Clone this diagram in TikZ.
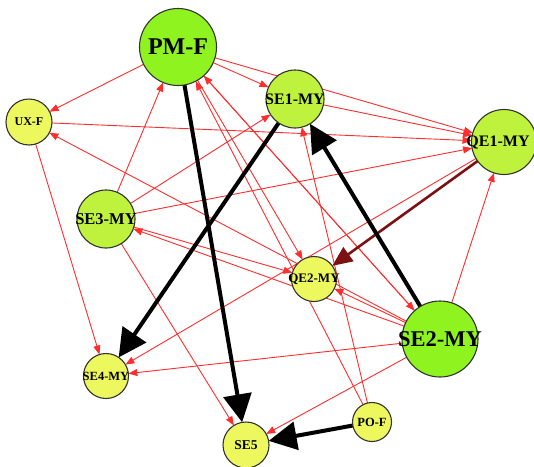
\documentclass[tikz,border=0pt]{standalone}
\usepackage{fontspec}
\setmainfont{Liberation Serif}
\usetikzlibrary{arrows.meta}

\definecolor{bignode}{HTML}{8EF31F}
\definecolor{midnode}{HTML}{BFF23D}
\definecolor{smallnode}{HTML}{EDF75E}
\definecolor{edgered}{HTML}{FF2E2E}
\definecolor{edgemaroon}{HTML}{7B1111}
\definecolor{rim}{HTML}{333333}

\pgfdeclarelayer{paper}
\pgfdeclarelayer{edges}
\pgfsetlayers{paper,edges,main}

\begin{document}
\begin{tikzpicture}[x=1pt,y=-1pt,
  vertex/.style={circle, draw=rim, line width=1.1pt, inner sep=0pt, outer sep=0pt},
  bigv/.style={vertex, fill=bignode},
  midv/.style={vertex, fill=midnode},
  smallv/.style={vertex, fill=smallnode},
  fsz/.style={font=\fontsize{#1}{#1}\selectfont\bfseries},
  weak/.style={draw=edgered, line width=0.9pt, -{Triangle[length=9pt,width=7pt]}},
  mid/.style={draw=edgemaroon, line width=2.6pt, -{Triangle[length=20pt,width=17pt]}},
  strong/.style={draw=black, line width=4pt, -{Triangle[length=28pt,width=28pt]}}
]
\useasboundingbox (0,0) rectangle (534,466);
\clip (0,0) rectangle (534,466);
\begin{pgfonlayer}{paper}
  \fill[white] (0,0) rectangle (534,466);
\end{pgfonlayer}

% vertices
\node[bigv,   minimum size=77pt, fsz=24]   (pmf) at (178,47)  {\makebox[0pt]{PM-F}};
\node[smallv, minimum size=46pt, fsz=12]   (uxf) at (29,122)  {\makebox[0pt]{UX-F}};
\node[midv,   minimum size=58pt, fsz=16]   (se1) at (295,99)  {\makebox[0pt]{SE1-MY}};
\node[midv,   minimum size=65pt, fsz=16]   (qe1) at (504,142) {\makebox[0pt]{QE1-MY\kern12pt}};
\node[midv,   minimum size=58pt, fsz=16.5] (se3) at (106,219) {\makebox[0pt]{SE3-MY}};
\node[smallv, minimum size=45pt, fsz=13]   (qe2) at (314,279) {\makebox[0pt]{QE2-MY}};
\node[bigv,   minimum size=76pt, fsz=22.5] (se2) at (440,339) {\makebox[0pt]{SE2-MY}};
\node[smallv, minimum size=45pt, fsz=12.5] (se4) at (106,376) {\makebox[0pt]{SE4-MY}};
\node[smallv, minimum size=46pt, fsz=13.5] (se5) at (246,445) {\makebox[0pt]{SE5}};
\node[smallv, minimum size=39pt, fsz=12.5] (pof) at (372,422) {\makebox[0pt]{PO-F}};

\begin{pgfonlayer}{edges}
  % thin relations
  \draw[weak] (pmf) -- (uxf);
  \draw[weak] (pmf) -- (se1);
  \draw[weak] (pmf) -- (qe1);
  \draw[weak] (pmf) -- (qe2);
  \draw[weak] (pmf) -- (se2);
  \draw[weak] (se2) -- (pmf);
  \draw[weak] (se1) -- (qe1);
  \draw[weak] (uxf) -- (qe1);
  \draw[weak] (uxf) -- (se4);
  \draw[weak] (se3) -- (qe1);
  \draw[weak] (se3) -- (se1);
  \draw[weak] (se3) -- (pmf);
  \draw[weak] (se3) -- (qe2);
  \draw[weak] (se3) -- (se5);
  \draw[weak] (se2) -- (se3);
  \draw[weak] (se2) -- (qe2);
  \draw[weak] (se2) -- (uxf);
  \draw[weak] (se2) -- (qe1);
  \draw[weak] (se2) -- (se4);
  \draw[weak] (se2) -- (se5);
  \draw[weak] (qe1) -- (se4);
  \draw[weak] (pof) -- (se1);
  \draw[weak] (pof) -- (pmf);
  % medium relation
  \draw[mid] (qe1) -- (qe2);
  % strong relations
  \draw[strong] (se2) -- (se1);
  \draw[strong] (se1) -- (se4);
  \draw[strong] (pmf) -- (se5);
  \draw[strong] (pof) -- (se5);
\end{pgfonlayer}
\end{tikzpicture}
\end{document}
